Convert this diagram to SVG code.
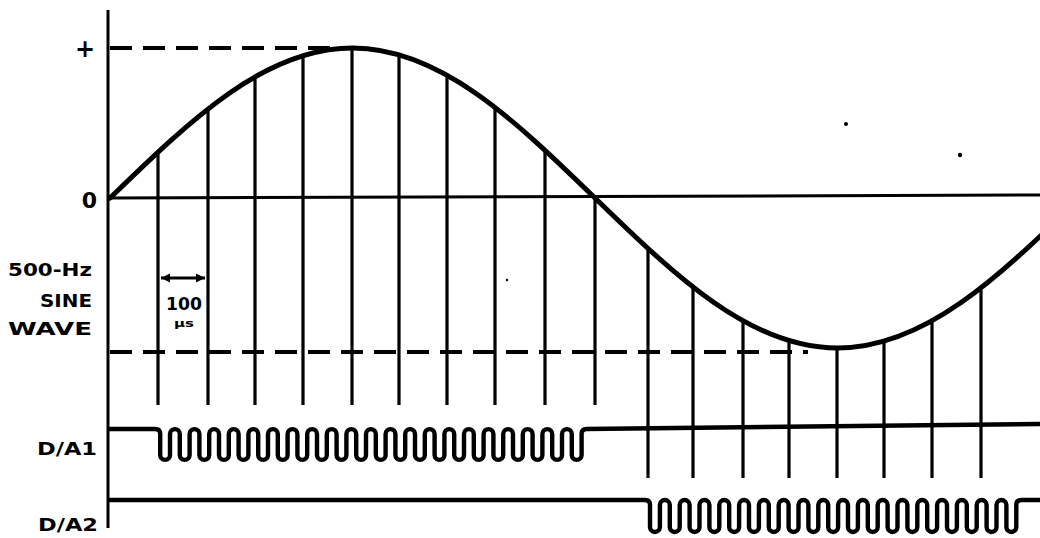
<svg xmlns="http://www.w3.org/2000/svg" width="1040" height="538" viewBox="0 0 1040 538">
<style>
.ln{stroke:#000;fill:none;stroke-linecap:butt}
.ax{stroke-width:3}
.vt{stroke-width:3.2}
.dash{stroke-width:4;stroke-dasharray:22 11}
.wave{stroke-width:5;stroke-linecap:round}
.sq{stroke-width:4.4;stroke-linejoin:round}
.lbl{font-family:"DejaVu Sans","Liberation Sans",sans-serif;font-weight:bold;fill:#000}
</style>
<defs>
<marker id="ah" viewBox="0 0 10 10" refX="10" refY="5" markerWidth="9" markerHeight="10" markerUnits="userSpaceOnUse" orient="auto-start-reverse">
<path d="M0 0L10 5L0 10z" fill="#000"/>
</marker>
</defs>
<rect width="1040" height="538" fill="#fff"/>
<g id="axes">
<path class="ln ax" d="M108 10V528"/>
<path class="ln ax" d="M108 198L1040 195"/>
</g>
<g id="guides">
<path class="ln dash" d="M110 48H345"/>
<path class="ln dash" d="M110 352H808"/>
</g>
<g id="connectors">
<path class="ln vt" d="M158 152V405M208 109V405M255 77V405M303 56V405M352 48V405M399 55V405M447 75V405M495 108V405M545 150V405M595 198V405"/>
<path class="ln vt" d="M648 248V478M693 287V478M743 321V478M789 341V478M837 348V478M884 341V478M932 321V478M981 288V478"/>
</g>
<g id="sine">
<path class="ln wave" d="M110 198C191.1 119.2 265.2 48 352.5 48C439.8 48 513.9 119.2 595 198C676.1 276.8 750.2 348 837.5 348C924.8 348 998.9 276.8 1080 198"/>
</g>
<g id="da1">
<path class="ln sq" d="M108 429H155.2q5 0 5 5v21a4.9 4.9 0 0 0 9.8 0v-21a4.9 4.9 0 0 1 9.8 0v21a4.9 4.9 0 0 0 9.8 0v-21a4.9 4.9 0 0 1 9.8 0v21a4.9 4.9 0 0 0 9.8 0v-21a4.9 4.9 0 0 1 9.8 0v21a4.9 4.9 0 0 0 9.8 0v-21a4.9 4.9 0 0 1 9.8 0v21a4.9 4.9 0 0 0 9.8 0v-21a4.9 4.9 0 0 1 9.8 0v21a4.9 4.9 0 0 0 9.8 0v-21a4.9 4.9 0 0 1 9.8 0v21a4.9 4.9 0 0 0 9.8 0v-21a4.9 4.9 0 0 1 9.8 0v21a4.9 4.9 0 0 0 9.8 0v-21a4.9 4.9 0 0 1 9.8 0v21a4.9 4.9 0 0 0 9.8 0v-21a4.9 4.9 0 0 1 9.8 0v21a4.9 4.9 0 0 0 9.8 0v-21a4.9 4.9 0 0 1 9.8 0v21a4.9 4.9 0 0 0 9.8 0v-21a4.9 4.9 0 0 1 9.8 0v21a4.9 4.9 0 0 0 9.8 0v-21a4.9 4.9 0 0 1 9.8 0v21a4.9 4.9 0 0 0 9.8 0v-21a4.9 4.9 0 0 1 9.8 0v21a4.9 4.9 0 0 0 9.8 0v-21a4.9 4.9 0 0 1 9.8 0v21a4.9 4.9 0 0 0 9.8 0v-21a4.9 4.9 0 0 1 9.8 0v21a4.9 4.9 0 0 0 9.8 0v-21a4.9 4.9 0 0 1 9.8 0v21a4.9 4.9 0 0 0 9.8 0v-21a4.9 4.9 0 0 1 9.8 0v21a4.9 4.9 0 0 0 9.8 0v-21a4.9 4.9 0 0 1 9.8 0v21a4.9 4.9 0 0 0 9.8 0v-21a4.9 4.9 0 0 1 9.8 0v21a4.9 4.9 0 0 0 9.8 0v-21a4.9 4.9 0 0 1 9.8 0v21a4.9 4.9 0 0 0 9.8 0v-21a4.9 4.9 0 0 1 9.8 0v21a4.9 4.9 0 0 0 9.8 0v-21q0 -5 5 -5L1040 424"/>
</g>
<g id="da2">
<path class="ln sq" d="M108 500H645q5 0 5 5v22a4.95 4.95 0 0 0 9.9 0v-22a4.95 4.95 0 0 1 9.9 0v22a4.95 4.95 0 0 0 9.9 0v-22a4.95 4.95 0 0 1 9.9 0v22a4.95 4.95 0 0 0 9.9 0v-22a4.95 4.95 0 0 1 9.9 0v22a4.95 4.95 0 0 0 9.9 0v-22a4.95 4.95 0 0 1 9.9 0v22a4.95 4.95 0 0 0 9.9 0v-22a4.95 4.95 0 0 1 9.9 0v22a4.95 4.95 0 0 0 9.9 0v-22a4.95 4.95 0 0 1 9.9 0v22a4.95 4.95 0 0 0 9.9 0v-22a4.95 4.95 0 0 1 9.9 0v22a4.95 4.95 0 0 0 9.9 0v-22a4.95 4.95 0 0 1 9.9 0v22a4.95 4.95 0 0 0 9.9 0v-22a4.95 4.95 0 0 1 9.9 0v22a4.95 4.95 0 0 0 9.9 0v-22a4.95 4.95 0 0 1 9.9 0v22a4.95 4.95 0 0 0 9.9 0v-22a4.95 4.95 0 0 1 9.9 0v22a4.95 4.95 0 0 0 9.9 0v-22a4.95 4.95 0 0 1 9.9 0v22a4.95 4.95 0 0 0 9.9 0v-22a4.95 4.95 0 0 1 9.9 0v22a4.95 4.95 0 0 0 9.9 0v-22a4.95 4.95 0 0 1 9.9 0v22a4.95 4.95 0 0 0 9.9 0v-22a4.95 4.95 0 0 1 9.9 0v22a4.95 4.95 0 0 0 9.9 0v-22a4.95 4.95 0 0 1 9.9 0v22a4.95 4.95 0 0 0 9.9 0v-22a4.95 4.95 0 0 1 9.9 0v22a4.95 4.95 0 0 0 9.9 0v-22a4.95 4.95 0 0 1 9.9 0v22a4.95 4.95 0 0 0 9.9 0v-22q0 -5 5 -5H1040"/>
</g>
<g id="interval">
<path class="ln" stroke-width="3" d="M161 278H205" marker-start="url(#ah)" marker-end="url(#ah)"/>
<text class="lbl" x="166" y="310" font-size="17" textLength="36" lengthAdjust="spacingAndGlyphs">100</text>
<text class="lbl" x="174" y="327" font-size="11" textLength="20" lengthAdjust="spacingAndGlyphs">µs</text>
</g>
<g id="labels">
<text class="lbl" x="85" y="57" font-size="24" text-anchor="middle">+</text>
<text class="lbl" x="89.5" y="208" font-size="22" text-anchor="middle">0</text>
<text class="lbl" x="8" y="276" font-size="18.5" textLength="84" lengthAdjust="spacingAndGlyphs">500-Hz</text>
<text class="lbl" x="40" y="307" font-size="18.5" textLength="52" lengthAdjust="spacingAndGlyphs">SINE</text>
<text class="lbl" x="8" y="335" font-size="18.5" textLength="84" lengthAdjust="spacingAndGlyphs">WAVE</text>
<text class="lbl" x="37" y="455" font-size="17" textLength="60" lengthAdjust="spacingAndGlyphs">D/A1</text>
<text class="lbl" x="38" y="531" font-size="18" textLength="60" lengthAdjust="spacingAndGlyphs">D/A2</text>
</g>
<g id="specks" fill="#000">
<circle cx="846" cy="124" r="2"/>
<circle cx="960" cy="155" r="2.2"/>
<circle cx="507" cy="280" r="1.2"/>
</g>
</svg>
